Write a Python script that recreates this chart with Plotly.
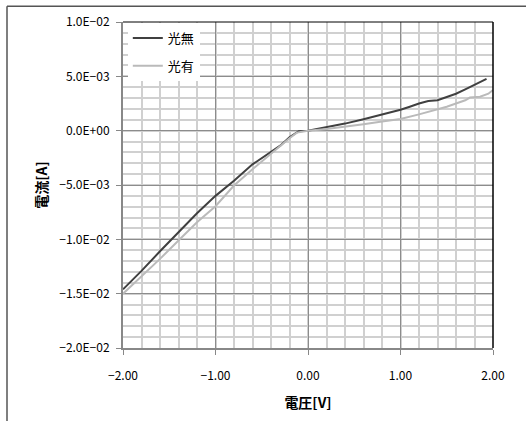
import plotly.graph_objects as go

# 光無 (no light)
v_dark = [-2.0, -1.8, -1.6, -1.4, -1.2, -1.0, -0.8, -0.6, -0.4, -0.3, -0.2, -0.1, 0.0,
          0.2, 0.4, 0.6, 0.8, 1.0, 1.1, 1.2, 1.3, 1.4, 1.5, 1.6, 1.7, 1.8, 1.93]
i_dark = [-14.6, -12.9, -11.1, -9.3, -7.6, -6.0, -4.6, -3.1, -1.95, -1.38, -0.6, -0.05, 0.0,
          0.3, 0.65, 1.05, 1.45, 1.92, 2.2, 2.5, 2.72, 2.8, 3.1, 3.4, 3.8, 4.2, 4.77]
# 光有 (with light)
v_light = [-2.0, -1.8, -1.6, -1.4, -1.2, -1.0, -0.8, -0.6, -0.4, -0.3, -0.2, -0.12, 0.0,
           0.2, 0.4, 0.6, 0.8, 1.0, 1.2, 1.4, 1.5, 1.6, 1.7, 1.75, 1.86, 1.95, 2.0]
i_light = [-15.0, -13.4, -11.8, -10.1, -8.43, -6.95, -5.05, -3.55, -2.1, -1.44, -0.7, -0.18, 0.0,
           0.15, 0.35, 0.6, 0.85, 1.08, 1.5, 1.95, 2.2, 2.5, 2.8, 3.05, 3.12, 3.4, 3.75]

x_ticks = [-2, -1, 0, 1, 2]
x_ticktext = ["\u22122.00", "\u22121.00", "0.00", "1.00", "2.00"]
y_ticks = [-0.02, -0.015, -0.01, -0.005, 0.0, 0.005, 0.01]
y_ticktext = ["\u22122.0E\u221202", "\u22121.5E\u221202", "\u22121.0E\u221202", "\u22125.0E\u221203",
              "0.0E+00", "5.0E\u221203", "1.0E\u221202"]

FONT = "Noto Sans CJK JP, Noto Sans, sans-serif"

fig = go.Figure()
fig.add_trace(go.Scatter(x=v_dark, y=[v * 1e-3 for v in i_dark], mode="lines", name="光無",
                         legendgroup="a", line=dict(color="#404040", width=2)))
fig.add_trace(go.Scatter(x=v_light, y=[v * 1e-3 for v in i_light], mode="lines", name="光有",
                         legendgroup="b", line=dict(color="#bababa", width=2)))

fig.update_layout(
    width=526, height=421,
    margin=dict(l=123, r=33, t=22, b=66),
    paper_bgcolor="white", plot_bgcolor="white",
    font=dict(family=FONT, size=12, color="black"),
    showlegend=True,
    legend=dict(x=0.013, y=0.997, xanchor="left", yanchor="top", bgcolor="white",
                font=dict(size=13, color="black"), itemwidth=30, tracegroupgap=8,
                borderwidth=0),
    shapes=[
        dict(type="line", xref="paper", yref="paper", x0=1, x1=1, y0=0, y1=1,
             line=dict(color="black", width=1.5)),
        dict(type="line", xref="paper", yref="paper", x0=0, x1=1, y0=1, y1=1,
             line=dict(color="black", width=1)),
        dict(type="line", xref="paper", yref="paper", x0=-116/370, x1=410/370,
             y0=1 + 16/333, y1=1 + 16/333, line=dict(color="#555555", width=1.5)),
        dict(type="line", xref="paper", yref="paper", x0=-116/370, x1=-116/370,
             y0=-80/333, y1=1 + 16/333, line=dict(color="#555555", width=1.5)),
    ],
)
fig.update_xaxes(
    range=[-2, 2], tickvals=x_ticks, ticktext=x_ticktext,
    showgrid=True, gridcolor="#8c8c8c", gridwidth=1,
    minor=dict(dtick=0.2, showgrid=True, gridcolor="#d0d0d0", gridwidth=1.5),
    showline=True, linecolor="#888888", linewidth=2,
    ticks="outside", ticklen=5, tickcolor="#888888", ticklabelstandoff=11,
    zeroline=False,
    title=dict(text="<b>電圧[V]</b>", font=dict(size=14), standoff=16),
)
fig.update_yaxes(
    range=[-0.02, 0.01], tickvals=y_ticks, ticktext=y_ticktext,
    showgrid=True, gridcolor="#8c8c8c", gridwidth=1,
    minor=dict(dtick=0.001, showgrid=True, gridcolor="#d0d0d0", gridwidth=1.5),
    showline=True, linecolor="#888888", linewidth=2,
    ticks="outside", ticklen=5, tickcolor="#888888", ticklabelstandoff=4,
    zeroline=False,
    title=dict(text="<b>電流[A]</b>", font=dict(size=14), standoff=8),
)

fig.write_html("out.html")
